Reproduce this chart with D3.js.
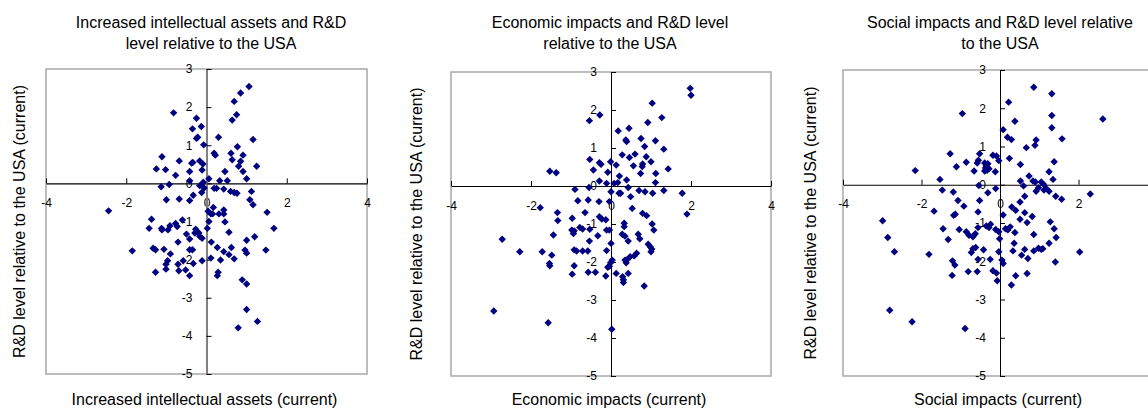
<!DOCTYPE html>
<html>
<head>
<meta charset="utf-8">
<script src="https://cdn.jsdelivr.net/npm/d3@7"></script>
<style>
  html, body { margin: 0; padding: 0; background: #fff; }
  svg { display: block; font-family: "Liberation Sans", Arial, sans-serif; }
</style>
</head>
<body>
<svg id="chart" width="1148" height="411"></svg>
<script>
// Scores of each respondent: [x score, R&D level relative to the USA]
const intellectualPoints = [
  [1.06,2.54],[0.85,2.37],[0.69,2.15],[0.75,1.80],[0.64,1.66],[-0.82,1.85],[-0.25,1.71],[-0.35,1.43],
  [-0.13,1.49],[-0.25,1.18],[-0.22,1.21],[0.30,1.21],[1.16,1.15],[-0.07,1.01],[0.77,0.96],[0.19,0.79],
  [0.22,0.74],[0.61,0.79],[0.91,0.74],[0.64,0.62],[0.85,0.58],[-1.11,0.70],[-0.68,0.59],[-0.37,0.53],
  [-0.34,0.55],[-0.17,0.59],[-0.09,0.51],[0.80,0.45],[1.25,0.45],[-1.25,0.38],[-1.02,0.36],[-0.77,0.21],
  [-0.42,0.31],[-0.11,0.35],[0.46,0.31],[0.91,0.31],[1.00,0.12],[0.06,0.12],[0.33,0.07],[0.52,0.07],
  [-0.42,0.07],[-0.08,0.03],[-0.17,-0.06],[-0.93,-0.03],[-1.13,-0.09],[-0.06,-0.12],[0.19,-0.13],[0.25,-0.13],
  [0.43,-0.15],[0.60,-0.21],[0.69,-0.24],[0.76,-0.26],[1.12,-0.21],[-0.33,-0.31],[-0.12,-0.24],[-1.00,-0.43],
  [-0.68,-0.41],[-0.42,-0.45],[1.08,-0.43],[1.16,-0.56],[0.17,-0.63],[0.04,-0.73],[0.11,-0.80],[0.15,-0.80],
  [0.31,-0.80],[0.43,-0.70],[0.43,-0.80],[1.51,-0.76],[0.06,-1.00],[0.46,-1.01],[-1.37,-0.94],[-0.60,-0.96],
  [-1.43,-1.18],[-1.12,-1.18],[-1.11,-1.22],[-0.91,-1.11],[-0.96,-1.22],[-0.77,-1.05],[-0.73,-1.13],[0.02,-1.18],
  [1.68,-1.18],[-0.50,-1.33],[-0.27,-1.20],[-0.23,-1.27],[-0.19,-1.30],[-0.29,-1.30],[-0.17,-1.39],[-0.11,-1.44],
  [-0.42,-1.46],[0.56,-1.28],[1.20,-1.40],[1.00,-1.49],[-0.71,-1.54],[0.12,-1.54],[-1.85,-1.77],[-1.33,-1.70],
  [-1.27,-1.74],[-1.06,-1.73],[-0.90,-1.85],[-0.42,-1.74],[-0.35,-1.74],[0.27,-1.68],[0.43,-1.79],[0.62,-1.68],
  [0.56,-1.87],[0.69,-1.98],[0.96,-1.75],[1.00,-1.83],[1.48,-1.75],[-0.97,-2.03],[-1.01,-2.12],[-1.01,-2.25],
  [-0.71,-2.12],[-0.58,-2.03],[-0.33,-2.10],[-0.11,-2.03],[0.11,-1.96],[0.35,-2.01],[-1.27,-2.33],[-0.69,-2.29],
  [-0.52,-2.27],[-0.42,-2.42],[0.29,-2.33],[0.27,-2.42],[0.89,-2.53],[1.00,-2.64],[1.00,-3.31],[1.27,-3.62],
  [0.79,-3.79],[-2.44,-0.72]
];

const economicPoints = [
  [1.98,2.57],[2.00,2.39],[1.03,2.18],[-0.54,1.72],[-0.28,1.87],[1.27,1.80],[0.92,1.67],[0.45,1.52],
  [0.18,1.45],[0.75,1.25],[0.37,1.21],[0.39,1.17],[1.11,1.19],[0.84,1.04],[1.32,0.97],[-0.53,0.70],
  [-0.29,0.61],[-0.25,0.57],[-0.01,0.64],[0.13,0.55],[0.28,0.82],[0.46,0.75],[0.60,0.84],[0.88,0.77],
  [1.00,0.64],[0.79,0.58],[0.78,0.51],[0.56,0.53],[-0.44,0.42],[-0.08,0.36],[0.21,0.26],[0.74,0.33],
  [1.12,0.33],[1.43,0.45],[-1.53,0.39],[-1.37,0.35],[-0.29,0.13],[-0.11,0.07],[0.08,0.07],[0.17,0.09],
  [0.39,0.16],[-0.55,-0.04],[-0.90,-0.09],[0.00,-0.15],[0.20,-0.19],[0.24,-0.19],[0.43,-0.04],[0.70,-0.12],
  [0.85,-0.15],[1.04,-0.19],[1.11,0.09],[1.32,-0.12],[1.78,-0.19],[0.49,-0.28],[-0.83,-0.39],[-0.57,-0.37],
  [-0.30,-0.41],[-0.04,-0.41],[-1.77,-0.57],[-1.34,-0.70],[-1.33,-0.91],[-0.97,-0.85],[-0.65,-0.70],[-0.29,-0.81],
  [-0.23,-0.87],[-0.13,-0.89],[0.53,-0.59],[0.79,-0.72],[0.89,-0.78],[1.90,-0.74],[0.33,-0.98],[0.33,-1.07],
  [1.03,-1.00],[-0.98,-1.16],[-0.92,-1.18],[-0.94,-1.25],[-0.78,-1.09],[-0.71,-1.13],[-0.53,-1.14],[-0.11,-1.16],
  [-0.04,-1.16],[-1.44,-1.29],[-0.33,-1.31],[0.00,-1.51],[0.28,-1.27],[0.35,-1.32],[0.43,-1.45],[0.68,-1.27],
  [0.72,-1.39],[1.07,-1.16],[-0.54,-1.45],[0.93,-1.53],[0.98,-1.60],[1.02,-1.66],[1.00,-1.73],[-2.28,-1.73],
  [-1.72,-1.73],[-1.48,-1.82],[-0.92,-1.68],[-0.86,-1.71],[-0.71,-1.71],[-0.58,-1.71],[-0.11,-1.70],[0.64,-1.77],
  [0.58,-1.84],[0.48,-1.86],[0.41,-1.93],[0.35,-1.95],[0.38,-2.02],[-1.54,-2.04],[-1.53,-2.10],[-0.92,-2.10],
  [0.03,-1.95],[-0.01,-2.02],[-0.04,-2.11],[-0.08,-2.14],[-0.97,-2.32],[-0.57,-2.27],[-0.39,-2.27],[-0.13,-2.37],
  [0.13,-2.30],[0.29,-2.39],[0.31,-2.47],[0.31,-2.54],[0.43,-2.30],[0.83,-2.63],[-2.72,-1.40],[-2.93,-3.29],
  [-1.57,-3.60],[0.02,-3.77]
];

const socialPoints = [
  [0.86,2.55],[1.32,2.38],[0.22,2.16],[-0.96,1.86],[1.32,1.81],[2.62,1.72],[0.38,1.66],[1.32,1.49],
  [0.08,1.44],[0.19,1.24],[0.29,1.18],[0.92,1.17],[1.58,1.20],[0.67,0.97],[0.89,1.03],[-1.27,0.81],
  [2.30,-0.24],[-2.16,0.37],[-2.99,-0.94],[-2.86,-1.38],[-2.69,-1.75],[-1.81,-1.82],[2.03,-1.76],[-2.81,-3.28],
  [-2.24,-3.58],[-0.89,-3.76],[-0.52,0.81],[-0.86,0.59],[-1.11,0.47],[-0.55,0.64],[-0.58,0.57],[-0.39,0.57],
  [-0.35,0.50],[-0.31,0.55],[-0.37,0.44],[-0.39,0.36],[-0.33,0.38],[-0.28,0.42],[-0.18,0.77],[-0.09,0.75],
  [-0.03,0.63],[-0.12,0.34],[-0.66,0.36],[-1.53,0.14],[0.24,0.69],[0.52,0.53],[0.74,0.23],[1.38,0.60],
  [1.25,0.34],[1.35,0.14],[0.52,0.10],[0.60,-0.03],[0.84,0.10],[0.90,0.07],[0.92,-0.17],[1.05,0.07],
  [1.11,0.01],[0.98,-0.08],[1.18,-0.10],[1.25,-0.17],[1.12,-0.14],[1.42,-0.30],[1.57,-0.38],[-1.47,-0.14],
  [-1.19,-0.19],[-0.54,-0.02],[-0.31,-0.21],[-0.11,-0.10],[-1.07,-0.41],[-0.92,-0.56],[-0.52,-0.41],[0.51,-0.45],
  [0.63,-0.30],[-1.68,-0.69],[-1.18,-0.80],[-1.14,-0.77],[-0.56,-0.71],[0.08,-0.79],[0.30,-0.58],[0.40,-0.67],
  [0.63,-0.73],[0.82,-0.83],[0.51,-0.90],[0.69,-0.99],[1.28,-0.97],[-1.45,-1.15],[-1.32,-1.43],[-1.04,-1.17],
  [-0.86,-1.23],[-0.79,-1.32],[-0.69,-1.36],[-0.63,-1.28],[-0.56,-1.12],[-0.35,-1.08],[-0.24,-1.03],[-0.28,-1.12],
  [-0.11,-1.17],[-0.03,-1.23],[0.14,-1.15],[0.20,-1.18],[0.26,-1.10],[0.38,-1.25],[-0.01,-1.41],[0.36,-1.53],
  [0.86,-1.30],[1.38,-1.15],[1.43,-1.38],[1.25,-1.53],[0.98,-1.66],[1.05,-1.69],[1.09,-1.67],[0.86,-1.73],
  [0.63,-1.69],[0.33,-1.73],[0.55,-1.84],[0.71,-1.93],[-0.03,-1.75],[-0.69,-1.67],[-0.73,-1.77],[-0.62,-1.64],
  [-0.42,-1.70],[-0.56,-1.95],[-0.25,-1.95],[0.05,-1.97],[0.08,-2.06],[-1.21,-1.99],[-1.15,-2.10],[1.41,-2.02],
  [-1.22,-2.37],[-0.81,-2.27],[-0.58,-2.27],[-0.18,-2.25],[-0.09,-2.31],[-0.07,-2.51],[0.29,-2.62],[0.40,-2.38],
  [0.69,-2.32]
];

const xTicks = [-4, -2, 0, 2, 4];
const yTicks = [3, 2, 1, 0, -1, -2, -3, -4, -5];
const xDomain = [-4, 4];
const yDomain = [-5, 3];

const titles = [
  ["Increased intellectual assets and R&D", "level relative to the USA"],
  ["Economic impacts and R&D level", "relative to the USA"],
  ["Social impacts and R&D level relative", "to the USA"]
];
const xTitles = [
  "Increased intellectual assets (current)",
  "Economic impacts (current)",
  "Social impacts (current)"
];
const yTitle = "R&D level relative to the USA (current)";

const WIDTH = 1148;

// Panel frames
const panels = [
  { points: intellectualPoints, left: 46,  top: 69, width: 321, height: 305, titleX: 211,  yTitleX: 19,  vAxis: "#808080", vAxisW: 2 },
  { points: economicPoints,     left: 451, top: 72, width: 320, height: 304, titleX: 610,  yTitleX: 416, vAxis: "#000",    vAxisW: 1 },
  { points: socialPoints,       left: 843, top: 70, width: 314, height: 306, titleX: 1000, yTitleX: 810, vAxis: "#000",    vAxisW: 1 }
];

const svg = d3.select("#chart");
const diamond = "M0,-3.7L3.7,0L0,3.7L-3.7,0Z";

panels.forEach((p, i) => {
  const x = d3.scaleLinear().domain(xDomain).range([p.left, p.left + p.width]);
  const y = d3.scaleLinear().domain(yDomain).range([p.top + p.height, p.top]);
  const g = svg.append("g");

  // chart titles
  g.append("text")
    .attr("x", p.titleX).attr("y", 28)
    .attr("text-anchor", "middle").attr("font-size", 16).attr("fill", "#000")
    .text(titles[i][0]);
  g.append("text")
    .attr("x", p.titleX).attr("y", 49)
    .attr("text-anchor", "middle").attr("font-size", 16).attr("fill", "#000")
    .text(titles[i][1]);

  // plot area frame
  g.append("rect")
    .attr("x", p.left).attr("y", p.top)
    .attr("width", p.width).attr("height", p.height)
    .attr("fill", "none").attr("stroke", "#a8a8a8").attr("stroke-width", 1.5);

  // horizontal axis through y = 0; labels past the page edge are left out
  const xAxis = d3.axisBottom(x)
    .tickValues(xTicks)
    .tickFormat(d => (x(d) + 6 > WIDTH ? "" : String(d)))
    .tickSizeInner(-5).tickSizeOuter(0).tickPadding(15);
  const gx = g.append("g").attr("transform", `translate(0,${y(0)})`).call(xAxis);
  gx.select(".domain").attr("stroke", "#000").attr("stroke-width", 1.2);
  gx.selectAll(".tick line").attr("stroke", "#000");
  gx.selectAll(".tick text").attr("font-size", 12).attr("fill", "#000")
    .attr("font-family", '"Liberation Sans", Arial, sans-serif');

  // vertical axis through x = 0
  const yAxis = d3.axisLeft(y)
    .tickValues(yTicks)
    .tickFormat(d => String(d))
    .tickSizeInner(-5).tickSizeOuter(0).tickPadding(14);
  const gy = g.append("g").attr("transform", `translate(${x(0)},0)`).call(yAxis);
  gy.select(".domain").attr("stroke", p.vAxis).attr("stroke-width", p.vAxisW);
  gy.selectAll(".tick line").attr("stroke", "#000");
  gy.selectAll(".tick text").attr("font-size", 12).attr("fill", "#000")
    .attr("font-family", '"Liberation Sans", Arial, sans-serif');

  // axis titles
  g.append("text")
    .attr("x", (p.left + p.left + p.width) / 2 - 2).attr("y", 405)
    .attr("text-anchor", "middle").attr("font-size", 16).attr("fill", "#000")
    .text(xTitles[i]);
  g.append("text")
    .attr("transform", `translate(${p.yTitleX},${p.top + p.height / 2}) rotate(-90)`)
    .attr("dy", "0.35em")
    .attr("text-anchor", "middle").attr("font-size", 16).attr("fill", "#000")
    .text(yTitle);

  // markers
  g.append("g").selectAll("path")
    .data(p.points)
    .join("path")
    .attr("d", diamond)
    .attr("transform", d => `translate(${x(d[0])},${y(d[1])})`)
    .attr("fill", "#000080");
});
</script>
</body>
</html>
